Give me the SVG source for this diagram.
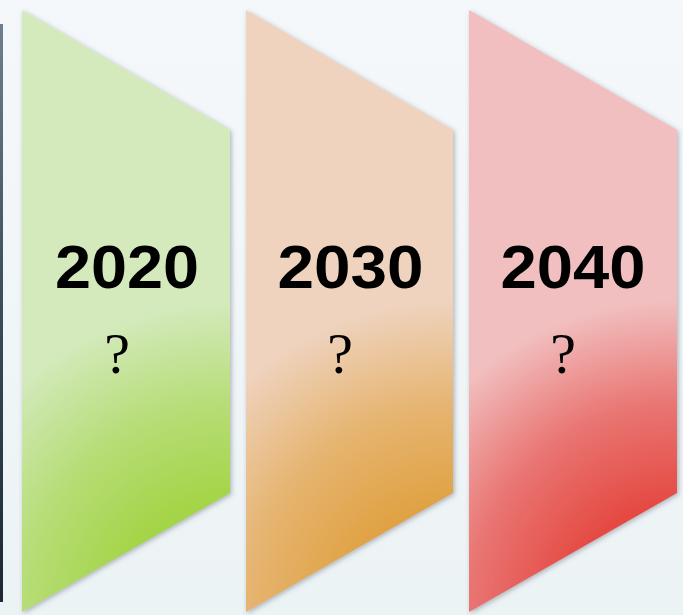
<svg xmlns="http://www.w3.org/2000/svg" width="683" height="615" viewBox="0 0 683 615">
  <defs>
    <linearGradient id="bg" x1="0" y1="0" x2="0" y2="1">
      <stop offset="0" stop-color="#f5f8fb"/>
      <stop offset="1" stop-color="#ecf3f5"/>
    </linearGradient>
    <linearGradient id="strip" x1="0" y1="0" x2="0" y2="1">
      <stop offset="0" stop-color="#6f7f8e"/>
      <stop offset="0.45" stop-color="#3e4f5e"/>
      <stop offset="1" stop-color="#1c2833"/>
    </linearGradient>
    <!-- each panel darkens towards its lower right corner -->
    <radialGradient id="gGreen" gradientUnits="userSpaceOnUse" cx="230" cy="612" r="330">
      <stop offset="0" stop-color="#a2d343"/>
      <stop offset="0.33" stop-color="#a4d446"/>
      <stop offset="0.63" stop-color="#b6dd77"/>
      <stop offset="0.945" stop-color="#d4eabd"/>
      <stop offset="1" stop-color="#d4eabd"/>
    </radialGradient>
    <radialGradient id="gOrange" gradientUnits="userSpaceOnUse" cx="453" cy="612" r="330">
      <stop offset="0" stop-color="#dfa03f"/>
      <stop offset="0.33" stop-color="#e0a244"/>
      <stop offset="0.63" stop-color="#e6b572"/>
      <stop offset="0.945" stop-color="#efd3bf"/>
      <stop offset="1" stop-color="#efd3bf"/>
    </radialGradient>
    <radialGradient id="gRed" gradientUnits="userSpaceOnUse" cx="677" cy="612" r="330">
      <stop offset="0" stop-color="#e4443e"/>
      <stop offset="0.33" stop-color="#e54a43"/>
      <stop offset="0.63" stop-color="#e97572"/>
      <stop offset="0.945" stop-color="#f1bfbf"/>
      <stop offset="1" stop-color="#f1bfbf"/>
    </radialGradient>
    <filter id="shadow" x="-10%" y="-10%" width="120%" height="120%">
      <feDropShadow dx="1.5" dy="1.5" stdDeviation="2.5" flood-color="#5a6470" flood-opacity="0.45"/>
    </filter>
    <style>
      .panel { filter: url(#shadow); }
      .year { font-family: "Liberation Sans", Arial, sans-serif; font-weight: bold; font-size: 61px; fill: #000; text-anchor: middle; }
      .ask { font-family: "Liberation Serif", "Times New Roman", serif; font-size: 58px; fill: #000; text-anchor: middle; }
    </style>
  </defs>

  <!-- backdrop -->
  <rect width="683" height="615" fill="url(#bg)"/>
  <rect x="0" y="24" width="3" height="578" fill="url(#strip)"/>

  <!-- year panels -->
  <g id="panel-2020">
    <polygon class="panel" points="22,10 230,130 230,493 22,612" fill="url(#gGreen)"/>
    <text class="year" x="127" y="288" textLength="144" lengthAdjust="spacingAndGlyphs">2020</text>
    <text class="ask" x="117" y="373">?</text>
  </g>
  <g id="panel-2030">
    <polygon class="panel" points="246,10 453,130 453,493 246,612" fill="url(#gOrange)"/>
    <text class="year" x="350.5" y="288" textLength="146" lengthAdjust="spacingAndGlyphs">2030</text>
    <text class="ask" x="340" y="373">?</text>
  </g>
  <g id="panel-2040">
    <polygon class="panel" points="469,10 677,130 677,493 469,612" fill="url(#gRed)"/>
    <text class="year" x="573" y="288" textLength="145" lengthAdjust="spacingAndGlyphs">2040</text>
    <text class="ask" x="563" y="373">?</text>
  </g>

  <g id="connectors"></g>
</svg>
